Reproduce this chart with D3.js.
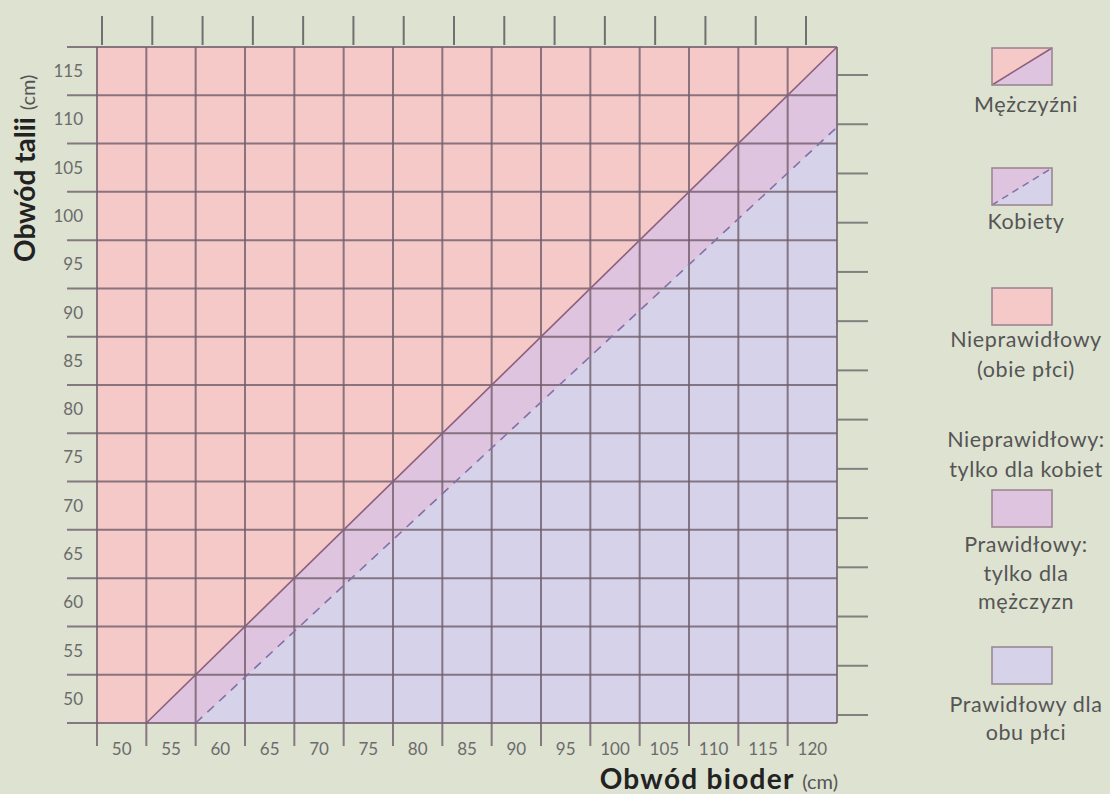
<!DOCTYPE html>
<html>
<head>
<meta charset="utf-8">
<script src="https://cdn.jsdelivr.net/npm/d3@7"></script>
<style>
  html, body { margin: 0; padding: 0; background: #dee2d1; }
  svg { display: block; }
</style>
</head>
<body>
<svg id="chart" width="1110" height="794"></svg>
<script>
// ---------- data ----------
const hipLabels = [50, 55, 60, 65, 70, 75, 80, 85, 90, 95, 100, 105, 110, 115, 120];
const waistLabels = [50, 55, 60, 65, 70, 75, 80, 85, 90, 95, 100, 105, 110, 115];
// grid boundaries lie halfway between labelled values
const hipGrid = [47.5, 52.5, 57.5, 62.5, 67.5, 72.5, 77.5, 82.5, 87.5, 92.5, 97.5, 102.5, 107.5, 112.5, 117.5, 122.5];
const waistGrid = [47.5, 52.5, 57.5, 62.5, 67.5, 72.5, 77.5, 82.5, 87.5, 92.5, 97.5, 102.5, 107.5, 112.5, 117.5];
// limit lines [hip, waist]
const menLimit = [[52.5, 47.5], [122.5, 117.5]];
const womenLimit = [[57.5, 47.5], [122.5, 109.2]];
// decorative ruler ticks (top and right)
const topRulerTicks = [50, 55, 60, 65, 70, 75, 80, 85, 90, 95, 100, 105, 110, 115, 120];
const rightRulerTicks = [50, 55, 60, 65, 70, 75, 80, 85, 90, 95, 100, 105, 110, 115];

const legendItems = [
  { kind: "men",    lines: ["Mężczyźni"] },
  { kind: "women",  lines: ["Kobiety"] },
  { kind: "pink",   lines: ["Nieprawidłowy", "(obie płci)"] },
  { kind: "none",   lines: ["Nieprawidłowy:", "tylko dla kobiet"] },
  { kind: "mauve",  lines: ["Prawidłowy:", "tylko dla", "mężczyzn"] },
  { kind: "lav",    lines: ["Prawidłowy dla", "obu płci"] }
];

// ---------- styles ----------
const C = {
  pink: "#f4c9c7",
  mauve: "#dec4df",
  lav: "#d6d2e9",
  grid: "#6f5e6b",
  tick: "#707070",
  label: "#6b6b6b",
  menLine: "#8c5f7c",
  womenLine: "#8470a6"
};
const FONT = "Lato, 'Open Sans', sans-serif";

const svg = d3.select("#chart");
const L = 97, R = 837, T = 47, B = 723;

const x = d3.scaleLinear().domain([47.5, 122.5]).range([L, R]);
const y = d3.scaleLinear().domain([47.5, 117.5]).range([B, T]);
const xTop = d3.scaleLinear().domain([50, 120]).range([102, 806]);
const yRight = d3.scaleLinear().domain([50, 115]).range([715, 75]);

const g = svg.append("g");

// ---------- regions ----------
const poly = d3.line().x(d => x(d[0])).y(d => y(d[1]));
const xmin = hipGrid[0], xmax = hipGrid[hipGrid.length - 1];
const ymin = waistGrid[0], ymax = waistGrid[waistGrid.length - 1];

g.append("path")
  .attr("d", poly([[xmin, ymin], [xmin, ymax], [xmax, ymax], [xmax, ymin]]) + "Z")
  .attr("fill", C.pink);
g.append("path")
  .attr("d", poly([menLimit[0], menLimit[1], [xmax, ymin]]) + "Z")
  .attr("fill", C.mauve);
g.append("path")
  .attr("d", poly([womenLimit[0], womenLimit[1], [xmax, ymin]]) + "Z")
  .attr("fill", C.lav);

// ---------- grid ----------
g.selectAll("line.h").data(waistGrid).join("line")
  .attr("class", "h")
  .attr("x1", 67).attr("x2", x(xmax))
  .attr("y1", d => y(d)).attr("y2", d => y(d))
  .attr("stroke", C.grid).attr("stroke-width", 2).attr("stroke-opacity", 0.8);

g.selectAll("line.v").data(hipGrid).join("line")
  .attr("class", "v")
  .attr("x1", d => x(d)).attr("x2", d => x(d))
  .attr("y1", y(ymax)).attr("y2", (d, i) => i === hipGrid.length - 1 ? y(ymin) : 746)
  .attr("stroke", C.grid).attr("stroke-width", 2).attr("stroke-opacity", 0.8);

// ---------- limit lines ----------
g.append("path").attr("d", poly(menLimit))
  .attr("stroke", C.menLine).attr("stroke-width", 1.6).attr("fill", "none");
g.append("path").attr("d", poly(womenLimit))
  .attr("stroke", C.womenLine).attr("stroke-width", 1.6).attr("fill", "none")
  .attr("stroke-dasharray", "9,7");

// ---------- ruler ticks ----------
g.selectAll("line.tt").data(topRulerTicks).join("line")
  .attr("x1", d => xTop(d)).attr("x2", d => xTop(d))
  .attr("y1", 16).attr("y2", 45)
  .attr("stroke", C.tick).attr("stroke-width", 2);
g.selectAll("line.rt").data(rightRulerTicks).join("line")
  .attr("x1", R).attr("x2", 868)
  .attr("y1", d => yRight(d)).attr("y2", d => yRight(d))
  .attr("stroke", C.tick).attr("stroke-width", 2).attr("stroke-opacity", 0.85);

// ---------- tick labels ----------
g.selectAll("text.xl").data(hipLabels).join("text")
  .attr("x", d => x(d)).attr("y", 755)
  .attr("text-anchor", "middle")
  .attr("font-family", FONT).attr("font-size", 17)
  .attr("fill", C.label)
  .text(d => d);
g.selectAll("text.yl").data(waistLabels).join("text")
  .attr("x", 83).attr("y", d => y(d) + 6)
  .attr("text-anchor", "end")
  .attr("font-family", FONT).attr("font-size", 17)
  .attr("fill", C.label)
  .text(d => d);

// ---------- axis titles ----------
const xt = g.append("text")
  .attr("x", 838).attr("y", 789)
  .attr("text-anchor", "end")
  .attr("font-family", FONT);
xt.append("tspan").attr("font-weight", "bold").attr("font-size", 28).attr("fill", "#222")
  .attr("letter-spacing", 1.3)
  .text("Obwód bioder ");
xt.append("tspan").attr("font-size", 20).attr("fill", "#555").text("(cm)");

const yt = g.append("text")
  .attr("transform", "translate(35,262) rotate(-90)")
  .attr("text-anchor", "start")
  .attr("font-family", FONT);
yt.append("tspan").attr("font-weight", "bold").attr("font-size", 28).attr("fill", "#222")
  .text("Obwód talii ");
yt.append("tspan").attr("font-size", 20).attr("fill", "#555").text("(cm)");

// ---------- legend ----------
const boxTops = [48, 168, 288, null, 490, 647];
const textStarts = [112, 229, 347, 447, 552, 712];
const lineStep = [0, 0, 30, 30, 28.5, 28];
const bx = 992, bw = 60, bh = 37, cx = 1026;

legendItems.forEach((it, i) => {
  const lg = svg.append("g");
  if (boxTops[i] !== null) {
    const t = boxTops[i];
    if (it.kind === "men" || it.kind === "women") {
      lg.append("rect").attr("x", bx).attr("y", t).attr("width", bw).attr("height", bh)
        .attr("fill", it.kind === "men" ? C.mauve : C.lav);
      lg.append("path")
        .attr("d", `M${bx},${t}L${bx + bw},${t}L${bx},${t + bh}Z`)
        .attr("fill", it.kind === "men" ? C.pink : C.mauve);
      lg.append("line").attr("x1", bx).attr("y1", t + bh).attr("x2", bx + bw).attr("y2", t)
        .attr("stroke", it.kind === "men" ? C.menLine : C.womenLine).attr("stroke-width", 1.5)
        .attr("stroke-dasharray", it.kind === "men" ? null : "7,5");
    } else {
      lg.append("rect").attr("x", bx).attr("y", t).attr("width", bw).attr("height", bh)
        .attr("fill", C[it.kind]);
    }
    lg.append("rect").attr("x", bx).attr("y", t).attr("width", bw).attr("height", bh)
      .attr("fill", "none").attr("stroke", "#9c8891").attr("stroke-width", 1.6);
  }
  it.lines.forEach((s, k) => {
    lg.append("text")
      .attr("x", cx).attr("y", textStarts[i] + k * lineStep[i])
      .attr("text-anchor", "middle")
      .attr("font-family", FONT).attr("font-size", 21.5)
      .attr("letter-spacing", 0.6)
      .attr("fill", "#555")
      .text(s);
  });
});
</script>
</body>
</html>
